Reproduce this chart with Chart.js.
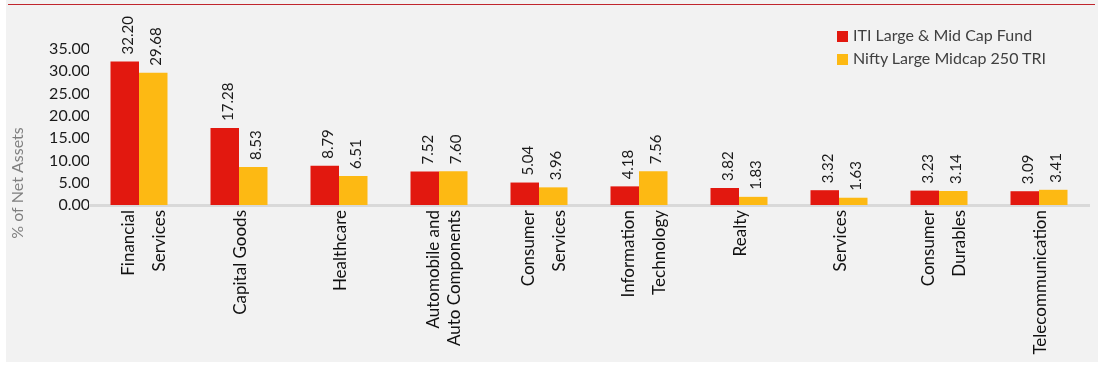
<!DOCTYPE html>
<html>
<head>
<meta charset="utf-8">
<script src="https://cdn.jsdelivr.net/npm/chart.js@4.4.1/dist/chart.umd.min.js"></script>
<style>
  html, body { margin: 0; padding: 0; background: #ffffff; }
  #wrap { position: relative; width: 1102px; height: 365px; overflow: hidden; }
  #panel { position: absolute; left: 6px; top: 0; width: 1092px; height: 362px; background: #f2f2f2; }
  #topLine { position: absolute; left: 8px; top: 4px; width: 1087px; height: 1px; background: #c0262d; }
  #sectorChart { position: absolute; left: 0; top: 0; }
  #legend { position: absolute; left: 837px; top: 25px; font-family: Lato, sans-serif; font-size: 16px; color: #404040; }
  #legend div { height: 23px; line-height: 20px; white-space: nowrap; }
  #legend span { display: inline-block; width: 11px; height: 11px; margin-right: 5px; vertical-align: -1px; }
</style>
</head>
<body>
<div id="wrap">
  <div id="panel"></div>
  <div id="topLine"></div>
  <canvas id="sectorChart" width="1102" height="365"></canvas>
  <div id="legend"></div>
</div>
<script>
// Sektorska raspodela - fond vs. indeks (% neto imovine)
const categories = [
    ['Financial', 'Services'],
    'Capital Goods',
    'Healthcare',
    ['Automobile and', 'Auto Components'],
    ['Consumer', 'Services'],
    ['Information', 'Technology'],
    'Realty',
    'Services',
    ['Consumer', 'Durables'],
    'Telecommunication'
];
const fundValues = [32.20, 17.28, 8.79, 7.52, 5.04, 4.18, 3.82, 3.32, 3.23, 3.09];
const indexValues = [29.68, 8.53, 6.51, 7.60, 3.96, 7.56, 1.83, 1.63, 3.14, 3.41];
const seriesNames = ['ITI Large & Mid Cap Fund', 'Nifty Large Midcap 250 TRI'];
const seriesColors = ['#e2180f', '#fdb913'];
const yTicks = [0, 5, 10, 15, 20, 25, 30, 35];
const yTitle = '% of Net Assets';

const FONT = 'Lato, "Open Sans", sans-serif';

// HTML legenda u gornjem desnom uglu
const legendEl = document.getElementById('legend');
seriesNames.forEach((name, i) => {
    const row = document.createElement('div');
    const sw = document.createElement('span');
    sw.style.background = seriesColors[i];
    row.appendChild(sw);
    row.appendChild(document.createTextNode(name));
    legendEl.appendChild(row);
});

// Vrednosti iznad stubova, rotirane za 90 stepeni
const valueLabels = {
    id: 'valueLabels',
    afterDatasetsDraw(chart) {
        const ctx = chart.ctx;
        ctx.save();
        ctx.font = '15px ' + FONT;
        ctx.fillStyle = '#1a1a1a';
        ctx.textAlign = 'left';
        ctx.textBaseline = 'middle';
        chart.data.datasets.forEach((ds, di) => {
            chart.getDatasetMeta(di).data.forEach((bar, i) => {
                ctx.save();
                ctx.translate(bar.x + 3, bar.y - 7);
                ctx.rotate(-Math.PI / 2);
                ctx.fillText(ds.data[i].toFixed(2), 0, 0);
                ctx.restore();
            });
        });
        ctx.restore();
    }
};

// Centriranje labela u dva reda oko sredine kategorije
const centerTickLines = {
    id: 'centerTickLines',
    beforeDraw(chart) {
        const scale = chart.scales.x;
        const items = scale.getLabelItems();
        items.forEach(item => {
            if (item._shifted) return;
            if (Array.isArray(item.label) && item.label.length > 1) {
                const lh = item.font.lineHeight;
                item.options.translation[0] -= (item.label.length - 1) * lh / 2 - 3;
            }
            item._shifted = true;
        });
    }
};

// Naslov y ose
const yAxisTitle = {
    id: 'yAxisTitle',
    afterDraw(chart) {
        const ctx = chart.ctx;
        ctx.save();
        ctx.font = '16px ' + FONT;
        ctx.fillStyle = '#7f7f7f';
        ctx.textAlign = 'center';
        ctx.textBaseline = 'middle';
        ctx.translate(18, 183);
        ctx.rotate(-Math.PI / 2);
        ctx.fillText(yTitle, 0, 0);
        ctx.restore();
    }
};

const ctx = document.getElementById('sectorChart').getContext('2d');
new Chart(ctx, {
    type: 'bar',
    data: {
        labels: categories,
        datasets: seriesNames.map((name, i) => ({
            label: name,
            data: i === 0 ? fundValues : indexValues,
            backgroundColor: seriesColors[i],
            borderWidth: 0,
            categoryPercentage: 0.57,
            barPercentage: 1.0
        }))
    },
    options: {
        responsive: false,
        animation: false,
        devicePixelRatio: 1,
        layout: { padding: { top: 49, right: 13, left: 0, bottom: 0 } },
        plugins: {
            legend: { display: false },
            tooltip: { enabled: false }
        },
        scales: {
            x: {
                grid: { display: false, drawTicks: false },
                border: { display: true, color: '#d9d9d9', width: 3 },
                ticks: {
                    autoSkip: false,
                    minRotation: 90,
                    maxRotation: 90,
                    padding: 5,
                    labelOffset: 2,
                    color: '#111111',
                    font: function(c) {
                        return { family: FONT, size: 17, lineHeight: c.index === 3 ? 1.18 : 1.8 };
                    }
                },
                afterFit: function(scale) { scale.height = 160; }
            },
            y: {
                min: 0,
                max: 35,
                grid: { display: false, drawTicks: false },
                border: { display: false },
                afterBuildTicks: function(scale) {
                    scale.ticks = yTicks.map(v => ({ value: v }));
                },
                ticks: {
                    padding: -1,
                    color: '#1a1a1a',
                    font: { family: FONT, size: 16 },
                    callback: function(value) { return value.toFixed(2); }
                },
                afterFit: function(scale) { scale.width = 89; }
            }
        }
    },
    plugins: [valueLabels, centerTickLines, yAxisTitle]
});
</script>
</body>
</html>
